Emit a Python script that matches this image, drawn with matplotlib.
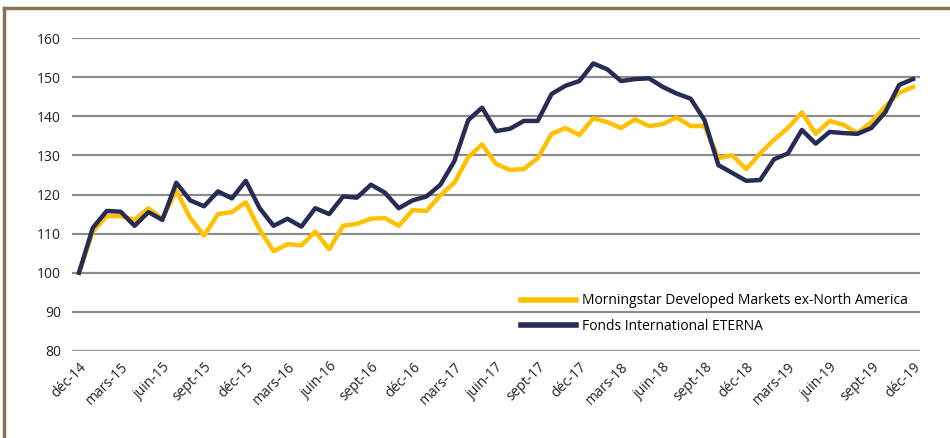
import matplotlib.pyplot as plt
from matplotlib.lines import Line2D

fonds = [100, 111.5, 115.8, 115.6, 112, 115.5, 113.5, 123, 118.5, 117, 120.8, 119,
         123.5, 116.5, 112, 113.8, 111.8, 116.5, 115, 119.5, 119.2, 122.5, 120.5, 116.5,
         118.5, 119.5, 122.5, 128.5, 139, 142.2, 136.2, 136.8, 138.8, 138.8, 145.7, 147.8,
         149, 153.5, 152, 149, 149.5, 149.7, 147.5, 145.8, 144.5, 139, 127.5, 125.5,
         123.5, 123.7, 129, 130.5, 136.5, 133, 136, 135.7, 135.5, 137, 141, 148, 149.5]
morningstar = [100, 110.5, 114.5, 114.5, 113.5, 116.5, 113.8, 121, 114, 109.5, 115, 115.5,
               118, 111, 105.5, 107.3, 107, 110.5, 106, 112, 112.5, 113.8, 114, 112,
               116, 115.8, 119.8, 123, 129.5, 132.8, 127.8, 126.3, 126.5, 129.3, 135.5, 137,
               135.2, 139.5, 138.5, 137, 139.2, 137.5, 138, 139.7, 137.5, 137.5, 129.3, 130,
               126.5, 130.5, 134, 137, 141, 135.5, 138.8, 137.8, 135.7, 138.5, 142.5, 146, 147.5]
tick_labels = ["déc-14", "mars-15", "juin-15", "sept-15", "déc-15", "mars-16", "juin-16",
               "sept-16", "déc-16", "mars-17", "juin-17", "sept-17", "déc-17", "mars-18",
               "juin-18", "sept-18", "déc-18", "mars-19", "juin-19", "sept-19", "déc-19"]

plt.rcParams['font.family'] = ['Open Sans', 'DejaVu Sans']

fig = plt.figure(figsize=(9.5, 4.38), dpi=100)
ax = fig.add_axes([72 / 950, 1 - 351 / 438, 848 / 950, 313 / 438])

x = list(range(len(fonds)))
ax.plot(x, morningstar, color="#ffc000", linewidth=3.2, solid_joinstyle="round",
        label="Morningstar Developed Markets ex-North America", zorder=3)
ax.plot(x, fonds, color="#262c54", linewidth=3.2, solid_joinstyle="round",
        label="Fonds International ETERNA", zorder=4)

ax.set_ylim(80, 160)
ax.set_xlim(-0.5, len(fonds) - 0.5)
ax.set_yticks(range(80, 161, 10))
ax.set_xticks(range(0, len(fonds), 3))
ax.set_xticklabels(tick_labels, rotation=45, ha="right", rotation_mode="anchor")
ax.tick_params(length=0, labelsize=10, colors="#222222", pad=8)
ax.tick_params(axis="x", pad=6)
ax.grid(axis="y", color="#8c8c8c", linewidth=1.6)
ax.set_axisbelow(True)
for s in ax.spines.values():
    s.set_visible(False)

leg = ax.legend(loc="lower right", bbox_to_anchor=(1.0, 0.015), frameon=False,
                fontsize=10, handlelength=4, handletextpad=0.4, labelspacing=0.75)
for h in leg.get_lines():
    h.set_linewidth(4)

# cadre brun
fig.add_artist(Line2D([4 / 950, 1], [1 - 8 / 438, 1 - 8 / 438], transform=fig.transFigure,
                      color="#8b7355", linewidth=2.5))
fig.add_artist(Line2D([4 / 950, 4 / 950], [0, 1 - 8 / 438], transform=fig.transFigure,
                      color="#8b7355", linewidth=2.5))

fig.savefig("out.png", dpi=100)
